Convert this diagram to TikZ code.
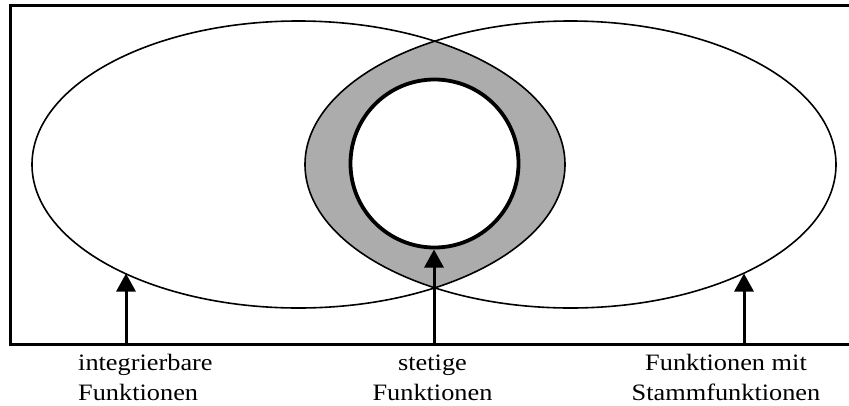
\documentclass[tikz,border=0pt]{standalone}
\usepackage{fontspec}
\setmainfont{Liberation Serif}[FakeStretch=1.12]
\usetikzlibrary{arrows.meta}
\tikzset{
  setline/.style={line width=1.6pt, black},
  innercircle/.style={line width=3.8pt, black},
  frameline/.style={line width=3pt, black},
  pointer/.style={line width=3pt, black, -{Triangle[length=18pt,width=19pt]}},
  lbl/.style={inner sep=0pt, font={\fontsize{23.5}{30}\selectfont}}
}
\begin{document}
\begin{tikzpicture}[x=1pt,y=-1pt]
\useasboundingbox (0,0) rectangle (849,405);
\coordinate (cL) at (298.5,164.5);
\coordinate (cR) at (570.5,164.5);
\coordinate (cC) at (434.5,163.5);
% lens fill
\begin{scope}
  \clip (cL) ellipse [x radius=266.5pt, y radius=143.5pt];
  \fill[gray!65] (cR) ellipse [x radius=265.5pt, y radius=143.5pt];
\end{scope}
\fill[white] (cC) circle [radius=84pt];
\draw[setline] (cL) ellipse [x radius=266.5pt, y radius=143.5pt];
\draw[setline] (cR) ellipse [x radius=265.5pt, y radius=143.5pt];
\draw[innercircle] (cC) circle [radius=84pt];
% frame (right side lies outside the picture)
\coordinate (fTR) at (851,5);
\coordinate (fTL) at (10.5,5);
\coordinate (fBL) at (10.5,344);
\coordinate (fBR) at (851,344);
\draw[frameline] (fTR) -- (fTL) -- (fBL) -- (fBR);
% arrows
\coordinate (aL0) at (126,344);
\coordinate (aL1) at (126,273.5);
\coordinate (aM0) at (434,344);
\coordinate (aM1) at (434,249.5);
\coordinate (aR0) at (744,344);
\coordinate (aR1) at (744,273.5);
\draw[pointer] (aL0) -- (aL1);
\draw[pointer] (aM0) -- (aM1);
\draw[pointer] (aR0) -- (aR1);
% labels
\node[lbl, align=left, anchor=base west] (tL) at (78,400) {integrierbare\\Funktionen};
\node[lbl, align=center, anchor=base] (tM) at (432.5,400) {stetige\\Funktionen};
\node[lbl, align=center, anchor=base] (tR) at (726,400) {Funktionen mit\\Stammfunktionen};
\end{tikzpicture}
\end{document}
